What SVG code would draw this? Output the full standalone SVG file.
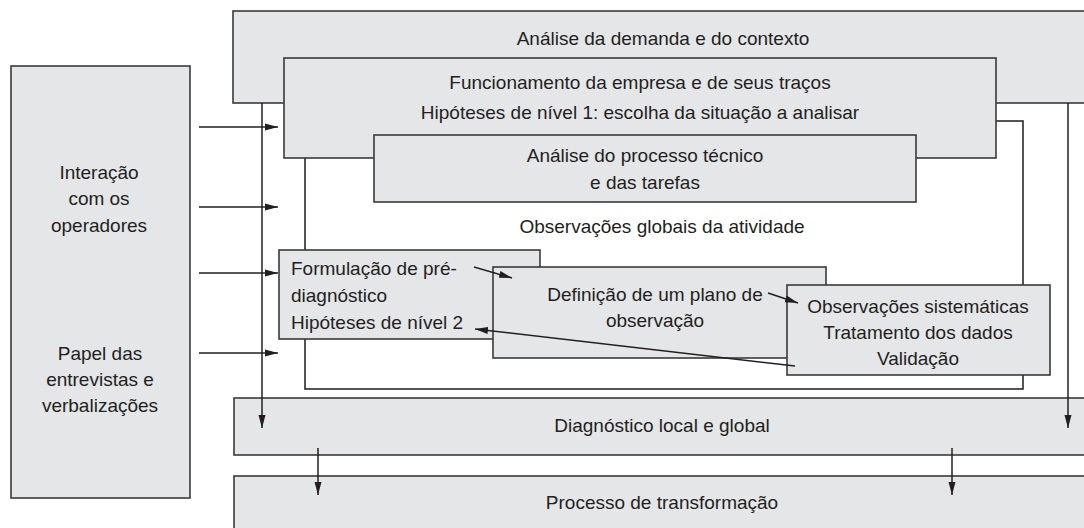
<svg xmlns="http://www.w3.org/2000/svg" width="1084" height="528" viewBox="0 0 1084 528">
<defs>
<marker id="ah" markerUnits="userSpaceOnUse" markerWidth="13" markerHeight="8" refX="13" refY="4" orient="auto">
<path d="M0,0.5 L13,4 L0,7.5 z" fill="#231f20"/>
</marker>
<style>
.box{fill:#e5e6e8;stroke:#3a3a3a;stroke-width:1.6}
.frame{fill:#fff;stroke:#2a2a2a;stroke-width:1.6}
.t{font-family:"Liberation Sans",Arial,sans-serif;font-size:19px;fill:#231f20}
.c{text-anchor:middle}
.ln{stroke:#231f20;stroke-width:1.5;fill:none}
.ar{stroke:#231f20;stroke-width:1.5;fill:none;marker-end:url(#ah)}
</style>
</defs>
<rect width="1084" height="528" fill="#fff"/>

<g id="interacao">
<rect class="box" x="11" y="66" width="179" height="432"/>
<text class="t c" x="99" y="179">Interação</text>
<text class="t c" x="99" y="205">com os</text>
<text class="t c" x="99" y="232">operadores</text>
<text class="t c" x="100" y="360">Papel das</text>
<text class="t c" x="100" y="386">entrevistas e</text>
<text class="t c" x="100" y="412">verbalizações</text>
</g>

<g id="analise-demanda">
<rect class="box" x="233" y="11" width="860" height="92"/>
<text class="t c" x="663" y="45">Análise da demanda e do contexto</text>
</g>

<g id="diagnostico">
<rect class="box" x="234" y="398" width="860" height="57"/>
<text class="t c" x="662" y="432">Diagnóstico local e global</text>
</g>

<g id="processo">
<rect class="box" x="234" y="476" width="860" height="70"/>
<text class="t c" x="662" y="509">Processo de transformação</text>
</g>

<g id="observacoes-globais">
<rect class="frame" x="305" y="121" width="718" height="268"/>
<text class="t c" x="662" y="233">Observações globais da atividade</text>
</g>

<g id="funcionamento">
<rect class="box" x="284" y="58" width="712" height="100"/>
<text class="t c" x="640" y="89">Funcionamento da empresa e de seus traços</text>
<text class="t c" x="640" y="119">Hipóteses de nível 1: escolha da situação a analisar</text>
</g>

<g id="analise-processo">
<rect class="box" x="374" y="135" width="542" height="67"/>
<text class="t c" x="645" y="162">Análise do processo técnico</text>
<text class="t c" x="645" y="189">e das tarefas</text>
</g>

<g id="formulacao">
<rect class="box" x="279" y="250" width="261" height="89"/>
<text class="t" x="291" y="275">Formulação de pré-</text>
<text class="t" x="291" y="302">diagnóstico</text>
<text class="t" x="291" y="329">Hipóteses de nível 2</text>
</g>

<g id="definicao">
<rect class="box" x="493" y="267" width="333" height="91"/>
<text class="t c" x="655" y="301">Definição de um plano de</text>
<text class="t c" x="655" y="327">observação</text>
</g>

<g id="sistematicas">
<rect class="box" x="787" y="285" width="263" height="90"/>
<text class="t c" x="918" y="313">Observações sistemáticas</text>
<text class="t c" x="918" y="339">Tratamento dos dados</text>
<text class="t c" x="918" y="365">Validação</text>
</g>

<g id="connectors">
<path class="ar" d="M262,103 V428"/>
<path class="ar" d="M1068,103 V428"/>
<path class="ar" d="M199,127 H278"/>
<path class="ar" d="M199,207 H278"/>
<path class="ar" d="M199,273 H278"/>
<path class="ar" d="M199,353 H278"/>
<path class="ar" d="M474,267 L512,278"/>
<path class="ar" d="M768,293 L798,303"/>
<path class="ar" d="M795,366 L475,329"/>
<path class="ar" d="M318,448 V495"/>
<path class="ar" d="M952,448 V495"/>
</g>
</svg>
